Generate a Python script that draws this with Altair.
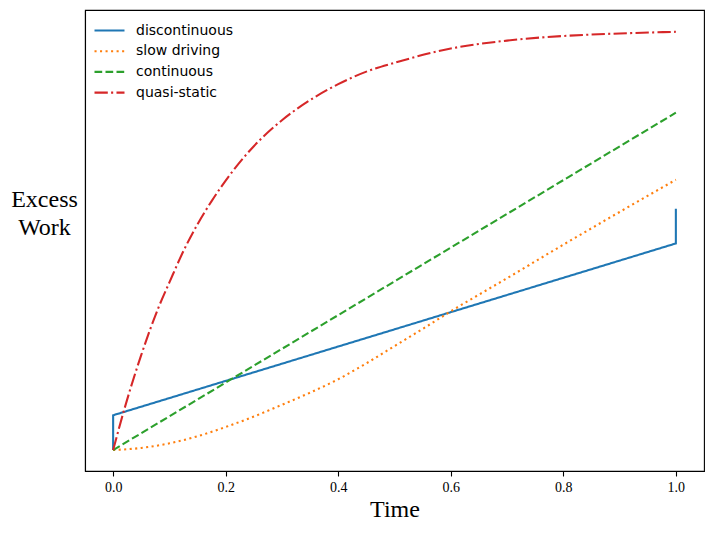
import altair as alt
import pandas as pd

series_names = ["discontinuous", "slow driving", "continuous", "quasi-static"]
series_colors = ["#1f77b4", "#ff7f0e", "#2ca02c", "#d62728"]

t_disc = [0.0, 0.0, 1.0, 1.0]
w_disc = [0.0, 0.083, 0.493, 0.576]

t_slow = [0.0, 0.05, 0.1, 0.15, 0.2, 0.25, 0.3, 0.35, 0.4, 0.45, 0.5, 0.55, 0.6, 0.7, 0.8, 0.9, 1.0]
w_slow = [0.0, 0.005, 0.016, 0.033, 0.055, 0.080, 0.108, 0.137, 0.169, 0.207, 0.248, 0.289, 0.331, 0.41, 0.49, 0.568, 0.645]

t_cont = [0.0, 1.0]
w_cont = [0.0, 0.805]

t_qs = [0.0, 0.02, 0.05, 0.08, 0.1, 0.125, 0.15, 0.175, 0.2, 0.25, 0.3, 0.35, 0.4, 0.45, 0.5, 0.6, 0.7, 0.8, 0.9, 1.0]
w_qs = [0.0, 0.098, 0.227, 0.338, 0.40, 0.475, 0.539, 0.594, 0.643, 0.725, 0.787, 0.835, 0.873, 0.903, 0.924, 0.958, 0.977, 0.988, 0.994, 0.998]

x_ticks = [0.0, 0.2, 0.4, 0.6, 0.8, 1.0]

rows = []
for name, ts, ws in zip(series_names, [t_disc, t_slow, t_cont, t_qs], [w_disc, w_slow, w_cont, w_qs]):
    for i, (t, w) in enumerate(zip(ts, ws)):
        rows.append({"series": name, "t": t, "w": w, "idx": i})
df = pd.DataFrame(rows)

dash_range = [[1, 0], [2.08, 3.44], [7.7, 3.3], [13.3, 3.3, 2.08, 3.3]]

legend = alt.Legend(title=None, orient="none", legendX=8, legendY=12.5)

enc = dict(
    x=alt.X("t:Q", scale=alt.Scale(domain=[-0.05, 1.05], nice=False, zero=False),
            axis=alt.Axis(values=x_ticks, format=".1f", title="Time", grid=False)),
    y=alt.Y("w:Q", scale=alt.Scale(domain=[-0.05, 1.05], nice=False, zero=False),
            axis=alt.Axis(title=["Excess", "Work"], labels=False, ticks=False, domain=True, grid=False,
                          titleAngle=0, titleAlign="center", titleBaseline="middle",
                          titleX=-41, titleY=189, titleLineHeight=28)),
    color=alt.Color("series:N", scale=alt.Scale(domain=series_names, range=series_colors), legend=legend),
    strokeDash=alt.StrokeDash("series:N", scale=alt.Scale(domain=series_names, range=dash_range), legend=legend),
    order=alt.Order("idx:Q"),
)

base = alt.Chart(df)
layers = []
for name, interp in zip(series_names, ["linear", "monotone", "linear", "monotone"]):
    layers.append(
        base.transform_filter(alt.datum.series == name)
        .mark_line(strokeWidth=2.08, interpolate=interp)
        .encode(**enc)
    )

chart = alt.layer(*layers).properties(
    width=619, height=461,
    autosize=alt.AutoSizeParams(type="none"),
    padding={"left": 77, "top": 2, "right": 2, "bottom": 50},
).configure_view(
    stroke="black", strokeWidth=1.1
).configure_axis(
    domainColor="black", domainWidth=1.1, tickColor="black", tickWidth=1.1, tickSize=5,
    labelFont="Liberation Serif", labelFontSize=14, labelColor="black", labelPadding=4,
    titleFont="Liberation Serif", titleFontSize=24, titleColor="black", titleFontWeight="normal",
    titlePadding=3, labelFlush=False,
).configure_legend(
    symbolType="stroke", symbolSize=900, symbolStrokeWidth=2.08,
    labelFont="DejaVu Sans", labelFontSize=14, labelColor="black",
    labelOffset=10, rowPadding=4.7, clipHeight=16, padding=0,
)

chart.save("out.html", embed_options={"renderer": "svg", "actions": False})
